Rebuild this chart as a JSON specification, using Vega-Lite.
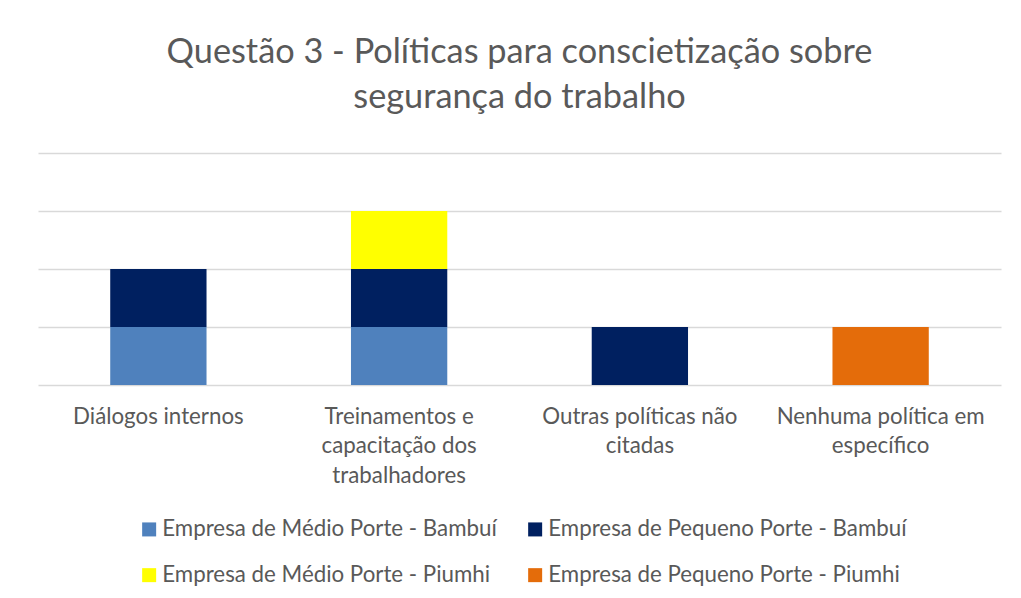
{
  "$schema": "https://vega.github.io/schema/vega-lite/v6.json",
  "width": 963,
  "height": 232,
  "padding": {"left": 38, "top": 35, "right": 20, "bottom": 5},
  "background": "white",
  "title": {
    "text": ["Questão 3 - Políticas para conscietização sobre", "segurança do trabalho"],
    "font": "Lato",
    "fontSize": 34.3,
    "fontWeight": "normal",
    "color": "#595959",
    "lineHeight": 45,
    "anchor": "middle",
    "offset": 38
  },
  "data": {
    "values": [
      {"categoria": "Diálogos internos", "serie": "Empresa de Médio Porte - Bambuí", "ordem": 1, "valor": 1},
      {"categoria": "Diálogos internos", "serie": "Empresa de Pequeno Porte - Bambuí", "ordem": 2, "valor": 1},
      {"categoria": "Treinamentos e capacitação dos trabalhadores", "serie": "Empresa de Médio Porte - Bambuí", "ordem": 1, "valor": 1},
      {"categoria": "Treinamentos e capacitação dos trabalhadores", "serie": "Empresa de Pequeno Porte - Bambuí", "ordem": 2, "valor": 1},
      {"categoria": "Treinamentos e capacitação dos trabalhadores", "serie": "Empresa de Médio Porte - Piumhi", "ordem": 3, "valor": 1},
      {"categoria": "Outras políticas não citadas", "serie": "Empresa de Pequeno Porte - Bambuí", "ordem": 2, "valor": 1},
      {"categoria": "Nenhuma política em específico", "serie": "Empresa de Pequeno Porte - Piumhi", "ordem": 4, "valor": 1}
    ]
  },
  "mark": {"type": "bar"},
  "encoding": {
    "x": {
      "field": "categoria",
      "type": "nominal",
      "sort": null,
      "scale": {"paddingInner": 0.6, "paddingOuter": 0.3},
      "axis": {
        "title": null,
        "labelAngle": 0,
        "ticks": false,
        "domain": false,
        "labelFont": "Lato",
        "labelFontSize": 22.3,
        "labelColor": "#595959",
        "labelPadding": 20,
        "labelLineHeight": 29.5,
        "labelBaseline": "top",
        "labelLimit": 300,
        "labelExpr": "datum.value == 'Treinamentos e capacitação dos trabalhadores' ? ['Treinamentos e', 'capacitação dos', 'trabalhadores'] : datum.value == 'Outras políticas não citadas' ? ['Outras políticas não', 'citadas'] : datum.value == 'Nenhuma política em específico' ? ['Nenhuma política em', 'específico'] : datum.value"
      }
    },
    "y": {
      "field": "valor",
      "type": "quantitative",
      "aggregate": "sum",
      "stack": "zero",
      "scale": {"domain": [0, 4], "nice": false},
      "axis": {
        "title": null,
        "labels": false,
        "ticks": false,
        "domain": false,
        "values": [0, 1, 2, 3, 4],
        "gridColor": "#D9D9D9",
        "gridWidth": 1.3
      }
    },
    "color": {
      "field": "serie",
      "type": "nominal",
      "scale": {
        "domain": ["Empresa de Médio Porte - Bambuí", "Empresa de Pequeno Porte - Bambuí", "Empresa de Médio Porte - Piumhi", "Empresa de Pequeno Porte - Piumhi"],
        "range": ["#4F81BD", "#002060", "#FFFF00", "#E46C0A"]
      },
      "legend": {
        "title": null,
        "orient": "none",
        "direction": "horizontal",
        "legendX": 100,
        "legendY": 365,
        "columns": 2,
        "symbolType": "square",
        "symbolSize": 196,
        "symbolStrokeWidth": 0,
        "labelFont": "Lato",
        "labelFontSize": 22.3,
        "labelColor": "#595959",
        "labelLimit": 500,
        "labelOffset": 2,
        "rowPadding": 23,
        "columnPadding": 27
      }
    },
    "order": {"field": "ordem", "type": "quantitative"}
  },
  "config": {
    "view": {"stroke": null}
  }
}
